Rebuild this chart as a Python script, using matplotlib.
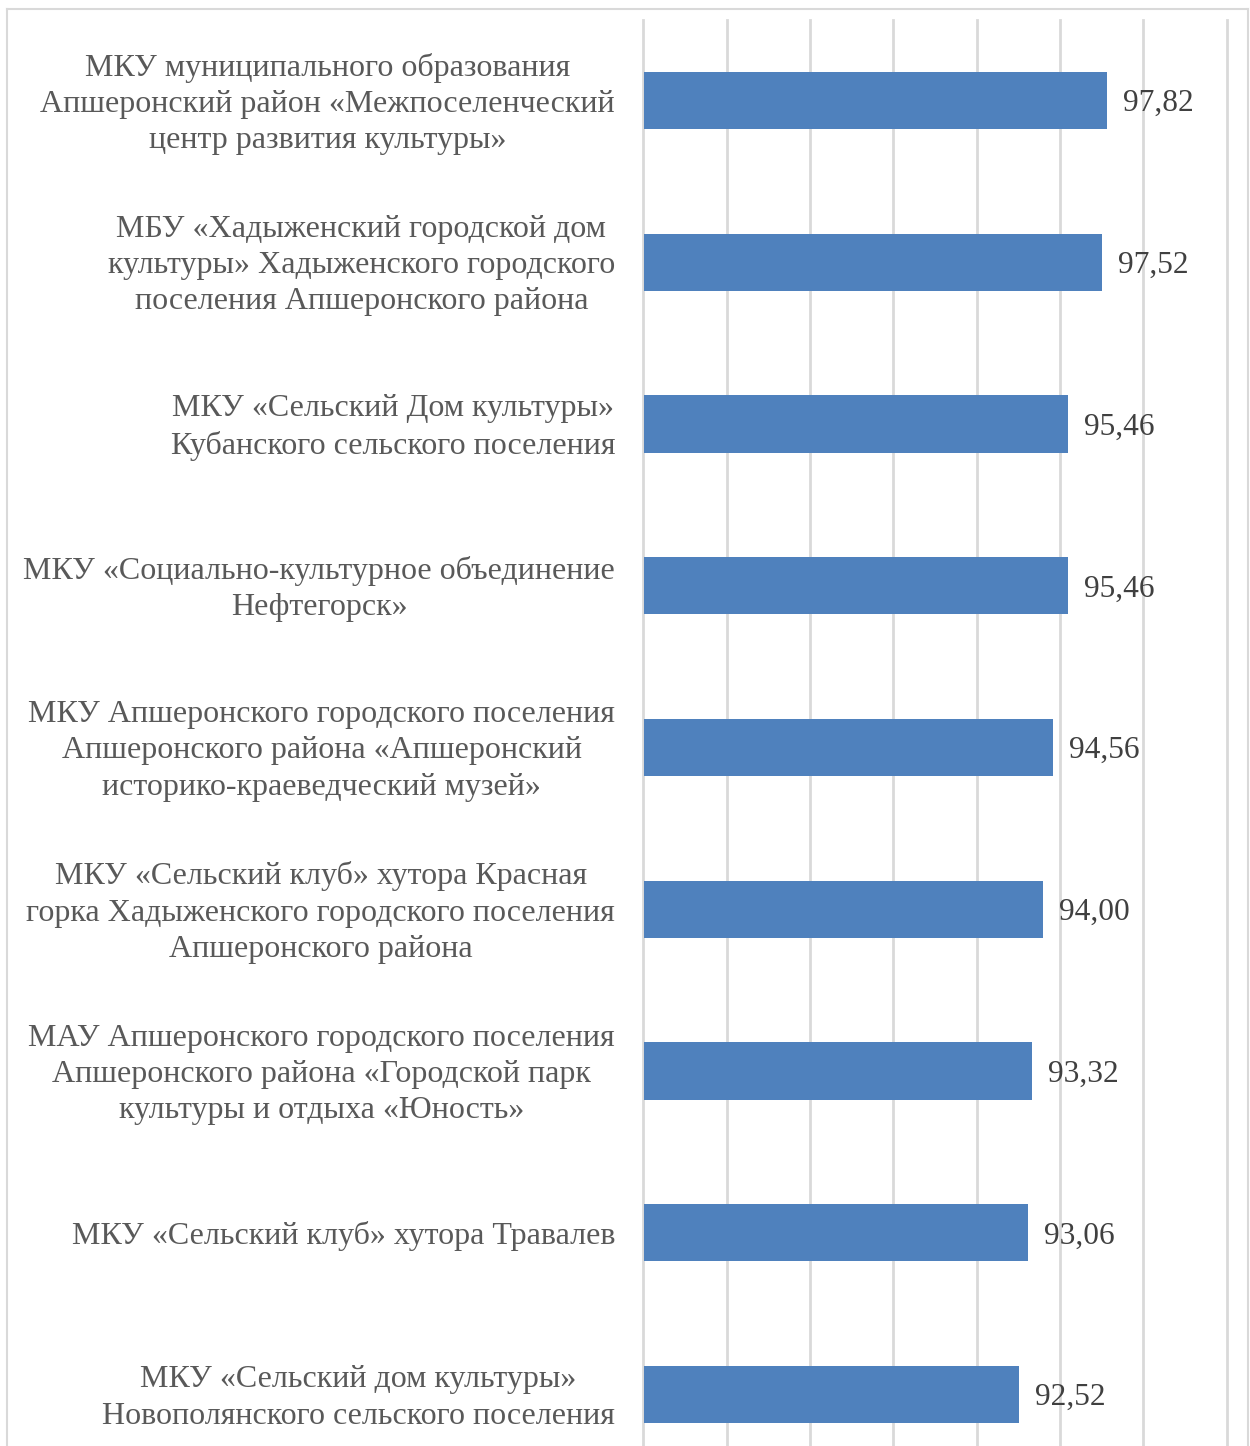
import matplotlib
matplotlib.use("Agg")
import matplotlib.pyplot as plt
from matplotlib.lines import Line2D

categories = [
    "МКУ муниципального образования\nАпшеронский район «Межпоселенческий\nцентр развития культуры»",
    "МБУ «Хадыженский городской дом\nкультуры» Хадыженского городского\nпоселения Апшеронского района",
    "МКУ «Сельский Дом культуры»\nКубанского сельского поселения",
    "МКУ «Социально-культурное объединение\nНефтегорск»",
    "МКУ Апшеронского городского поселения\nАпшеронского района «Апшеронский\nисторико-краеведческий музей»",
    "МКУ «Сельский клуб» хутора Красная\nгорка Хадыженского городского поселения\nАпшеронского района",
    "МАУ Апшеронского городского поселения\nАпшеронского района «Городской парк\nкультуры и отдыха «Юность»",
    "МКУ «Сельский клуб» хутора Травалев",
    "МКУ «Сельский дом культуры»\nНовополянского сельского поселения",
]
values = [97.82, 97.52, 95.46, 95.46, 94.56, 94.00, 93.32, 93.06, 92.52]
x_ticks = [70, 75, 80, 85, 90, 95, 100, 105]

plt.rcParams['font.family'] = ['Liberation Serif', 'DejaVu Serif']

W, H = 1250, 1446
fig = plt.figure(figsize=(W / 100, H / 100), dpi=100)

left = 643.5 / W
right = 1226.7 / W
top = 1 - 19.6 / H
bottom = 1 - 1475.4 / H
ax = fig.add_axes([left, bottom, right - left, top - bottom])

y = list(range(len(categories)))
ax.barh(y, values, height=0.353, color='#4f81bd', zorder=3)
ax.set_xlim(70, 105)
ax.set_ylim(len(categories) - 0.5, -0.5)
ax.set_xticks(x_ticks)
ax.xaxis.grid(True, color='#d9d9d9', linewidth=2, zorder=0)
for gl in ax.get_xgridlines():
    gl.set_clip_on(False)
ax.tick_params(axis='x', length=0, labelbottom=False)
for s in ax.spines.values():
    s.set_visible(False)

ax.set_yticks(y)
ax.set_yticklabels([])
ax.tick_params(axis='y', length=0)
for yi, lab in zip(y, categories):
    ax.annotate(lab, xy=(0, yi), xycoords=('axes fraction', 'data'),
                xytext=(-20.5, -2.5), textcoords='offset points',
                ha='right', va='center', multialignment='center',
                fontsize=23, color='#595959', linespacing=1.33)

fs_val = 22.6
for yi, v in zip(y, values):
    ax.annotate(f"{v:.2f}".replace('.', ','), xy=(v, yi), xytext=(11.5, -0.34 * fs_val),
                textcoords='offset points', ha='left', va='baseline',
                fontsize=fs_val, color='#404040', zorder=4)

# chart border
fig.add_artist(Line2D([7 / W, 1248 / W], [1 - 9.3 / H, 1 - 9.3 / H],
                      transform=fig.transFigure, color='#d9d9d9', lw=1.5))
fig.add_artist(Line2D([7 / W, 7 / W], [1 - 9.3 / H, 0],
                      transform=fig.transFigure, color='#d9d9d9', lw=1.5))
fig.add_artist(Line2D([1248 / W, 1248 / W], [1 - 9.3 / H, 0],
                      transform=fig.transFigure, color='#d9d9d9', lw=1.5))

fig.savefig("out.png", dpi=100)
